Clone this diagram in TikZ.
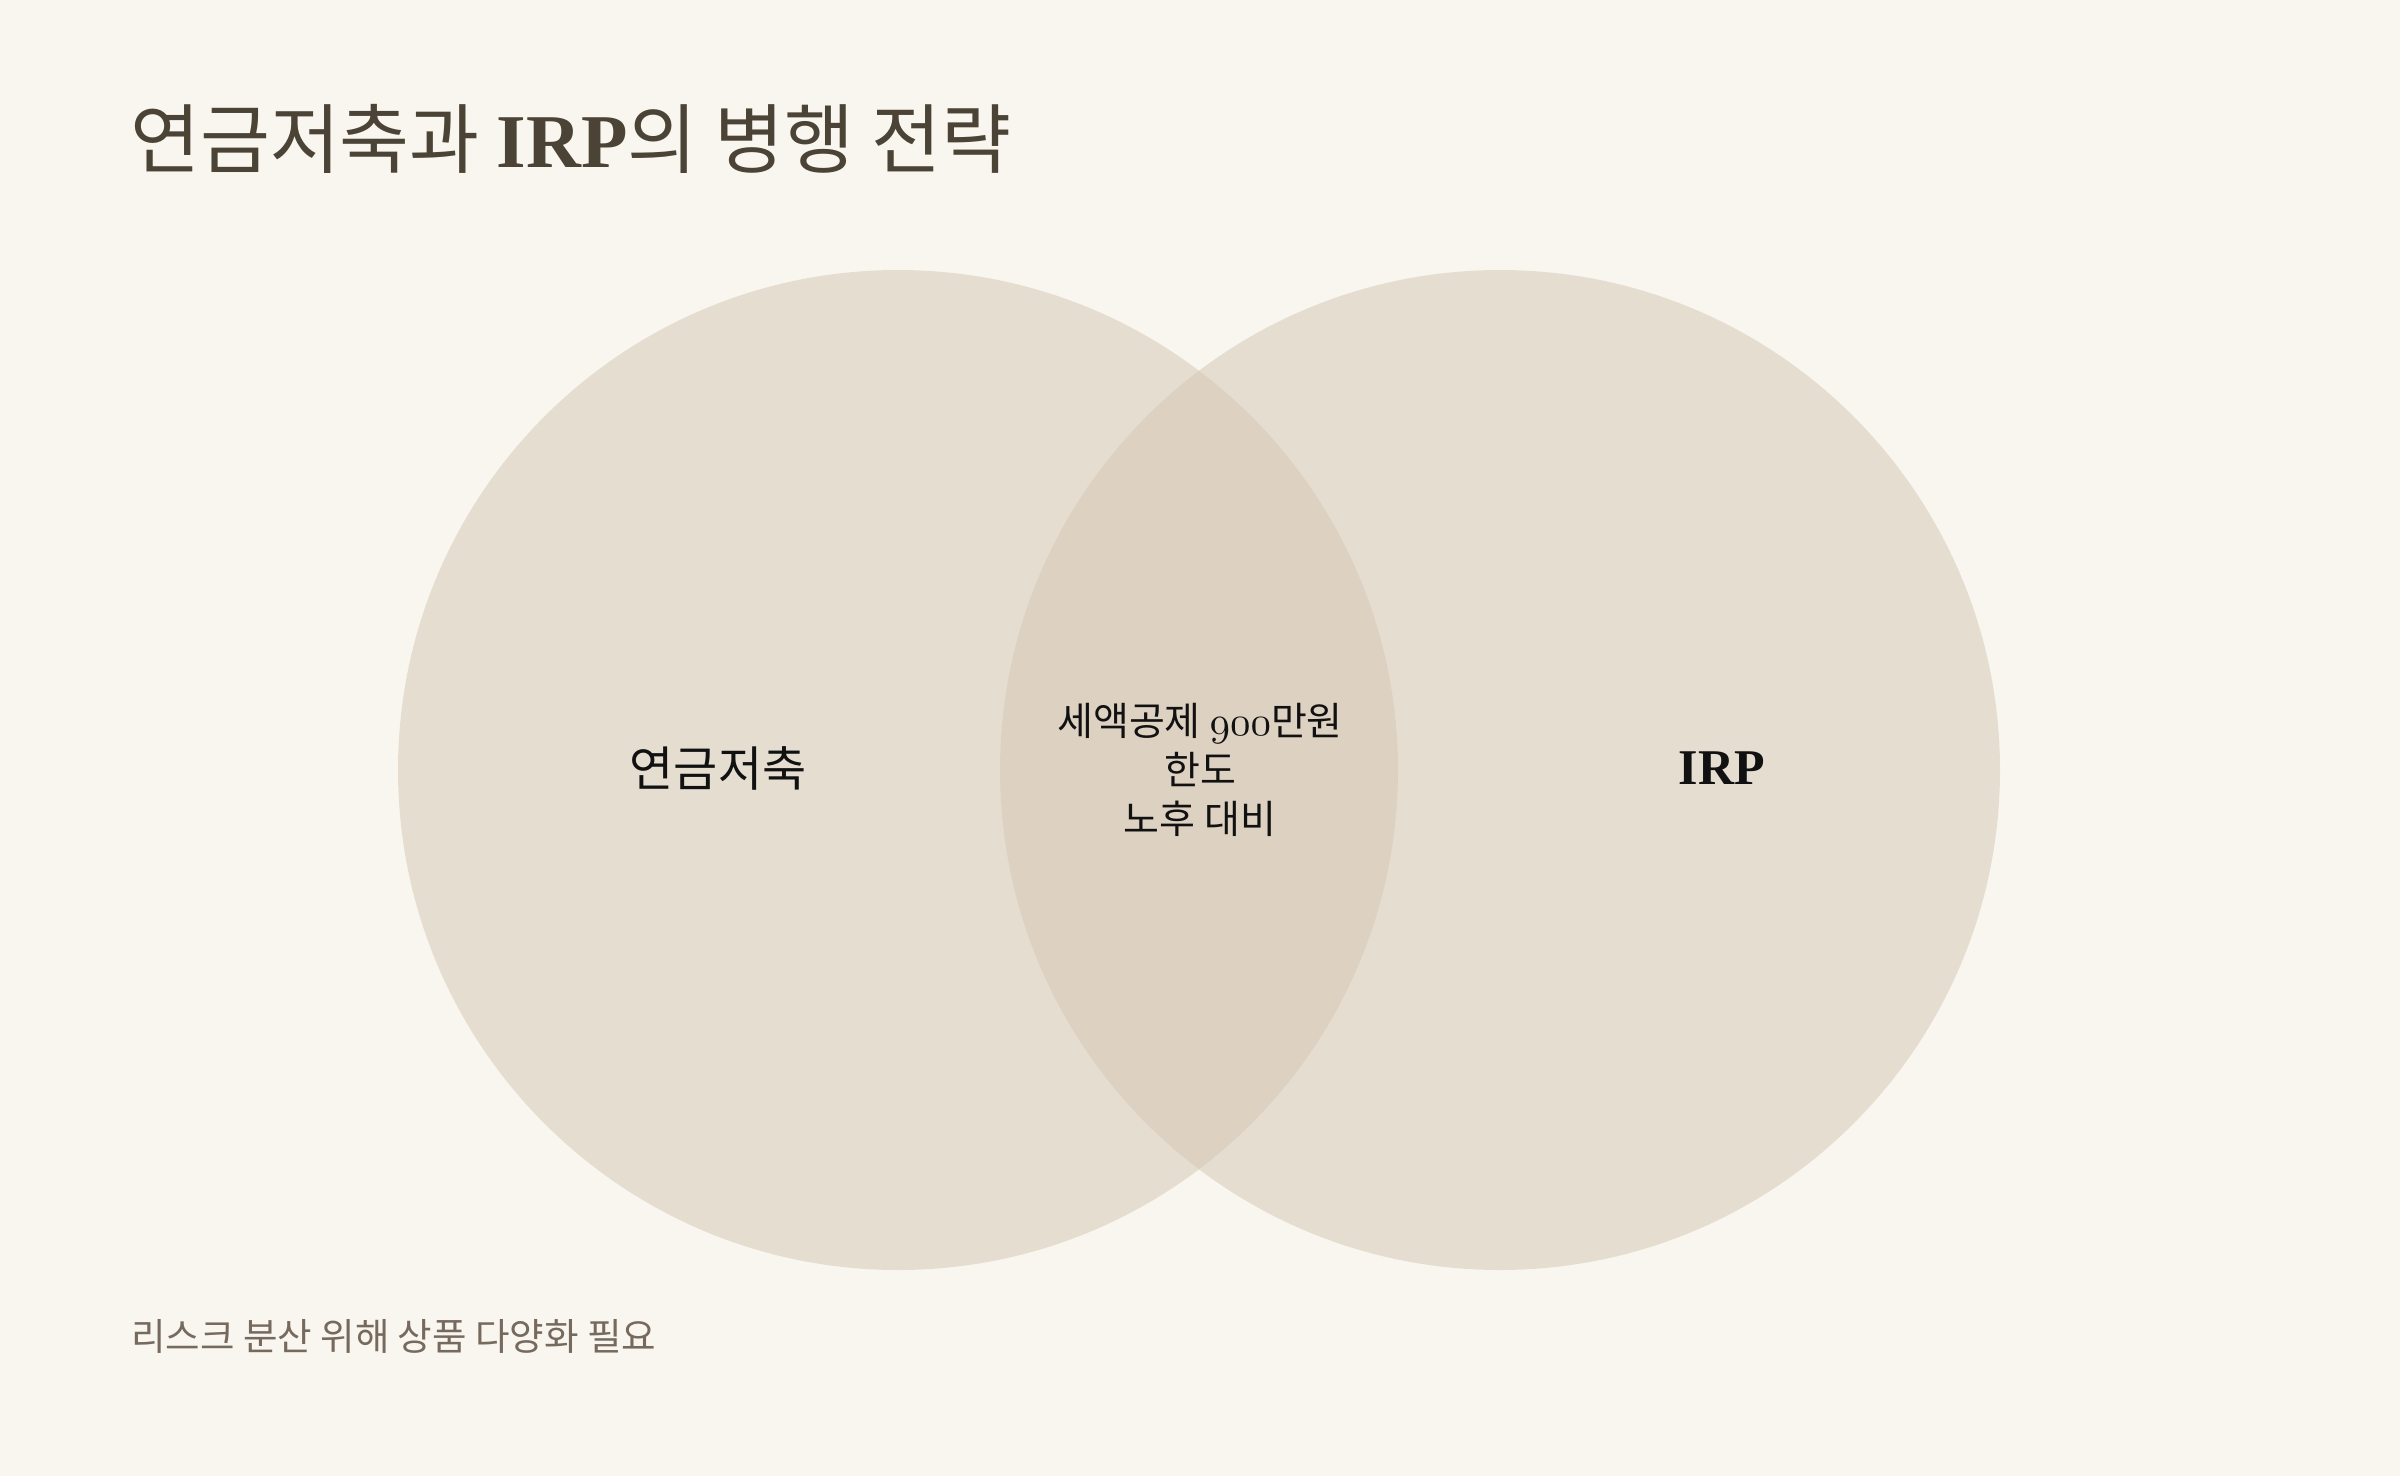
\documentclass[tikz,border=0pt]{standalone}
\usepackage{fontspec}
\usepackage{graphicx}
\setmainfont{Noto Sans CJK KR}
\newfontfamily\latinserif{Liberation Serif}
\definecolor{bg}{HTML}{F9F6F0}
\definecolor{circ}{HTML}{D5C6B4}
\definecolor{titlecol}{HTML}{4A4336}
\definecolor{notecol}{HTML}{76695D}
\definecolor{labelcol}{HTML}{111111}
\newcommand{\osnum}[1]{\scalebox{4.1}{\fontsize{10}{12}\usefont{OML}{cmm}{m}{it}#1}}
\tikzset{
  setcircle/.style={fill=circ, fill opacity=0.5, draw=none},
  setlabel/.style={text=labelcol, inner sep=0pt, align=center},
}
\begin{document}
\begin{tikzpicture}[x=1pt,y=-1pt]
\path[fill=bg, use as bounding box] (0,0) rectangle (2400,1476);
\fill[setcircle] (898,770) circle[radius=500];
\fill[setcircle] (1500,770) circle[radius=500];
\node[anchor=base west, inner sep=0pt, text=titlecol, font=\fontsize{76}{90}\selectfont] (title) at (130,167) {연금저축과 {\latinserif\bfseries IRP}의 병행 전략};
\node[setlabel, font=\fontsize{48}{58}\selectfont] (left) at (718,768) {연금저축};
\node[setlabel, font=\fontsize{50}{60}\selectfont\latinserif\bfseries] (right) at (1722,768) {IRP};
\node[setlabel, font=\fontsize{39}{49}\selectfont] (mid) at (1200,770) {세액공제 \osnum{900}만원\\한도\\노후 대비};
\node[anchor=base west, inner sep=0pt, text=notecol, font=\fontsize{37.5}{46}\selectfont] (note) at (131,1350) {리스크 분산 위해 상품 다양화 필요};
\end{tikzpicture}
\end{document}
